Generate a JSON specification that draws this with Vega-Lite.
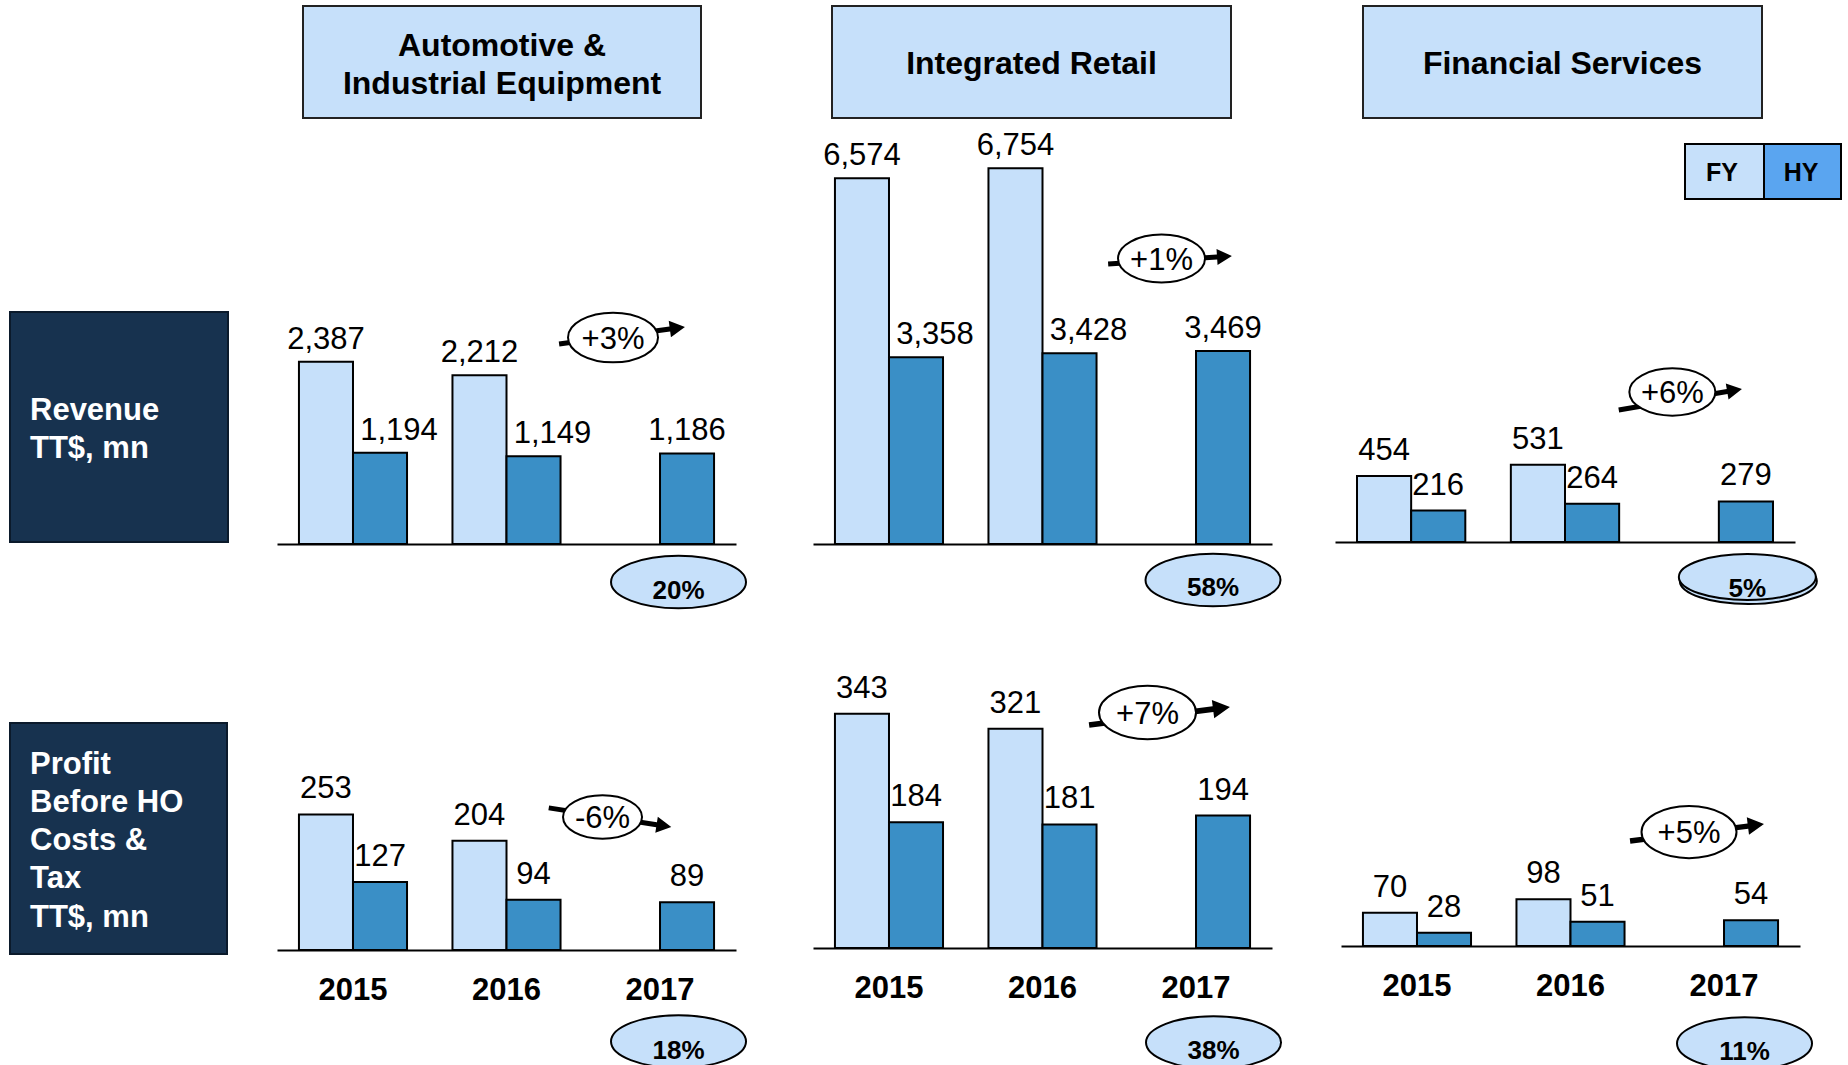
{
  "$schema": "https://vega.github.io/schema/vega-lite/v6.json",
  "padding": {"left": 9, "top": 5, "right": 0, "bottom": 0},
  "background": "white",
  "bounds": "flush",
  "align": "each",
  "columns": 7,
  "spacing": {"row": 12, "column": 0},
  "resolve": {"scale": {"x": "independent", "y": "independent", "xOffset": "independent", "color": "independent"}},
  "config": {"view": {"stroke": null}, "font": "Liberation Sans", "axis": {"labelFont": "Liberation Sans"}},
  "datasets": {
    "bars": [
      {"seg": "AIE", "metric": "Revenue", "year": "2015", "period": "FY", "value": 2387},
      {"seg": "AIE", "metric": "Revenue", "year": "2015", "period": "HY", "value": 1194},
      {"seg": "AIE", "metric": "Revenue", "year": "2016", "period": "FY", "value": 2212},
      {"seg": "AIE", "metric": "Revenue", "year": "2016", "period": "HY", "value": 1149},
      {"seg": "AIE", "metric": "Revenue", "year": "2017", "period": "HY", "value": 1186},
      {"seg": "IR", "metric": "Revenue", "year": "2015", "period": "FY", "value": 6574},
      {"seg": "IR", "metric": "Revenue", "year": "2015", "period": "HY", "value": 3358},
      {"seg": "IR", "metric": "Revenue", "year": "2016", "period": "FY", "value": 6754},
      {"seg": "IR", "metric": "Revenue", "year": "2016", "period": "HY", "value": 3428},
      {"seg": "IR", "metric": "Revenue", "year": "2017", "period": "HY", "value": 3469},
      {"seg": "FS", "metric": "Revenue", "year": "2015", "period": "FY", "value": 454},
      {"seg": "FS", "metric": "Revenue", "year": "2015", "period": "HY", "value": 216},
      {"seg": "FS", "metric": "Revenue", "year": "2016", "period": "FY", "value": 531},
      {"seg": "FS", "metric": "Revenue", "year": "2016", "period": "HY", "value": 264},
      {"seg": "FS", "metric": "Revenue", "year": "2017", "period": "HY", "value": 279},
      {"seg": "AIE", "metric": "Profit", "year": "2015", "period": "FY", "value": 253},
      {"seg": "AIE", "metric": "Profit", "year": "2015", "period": "HY", "value": 127},
      {"seg": "AIE", "metric": "Profit", "year": "2016", "period": "FY", "value": 204},
      {"seg": "AIE", "metric": "Profit", "year": "2016", "period": "HY", "value": 94},
      {"seg": "AIE", "metric": "Profit", "year": "2017", "period": "HY", "value": 89},
      {"seg": "IR", "metric": "Profit", "year": "2015", "period": "FY", "value": 343},
      {"seg": "IR", "metric": "Profit", "year": "2015", "period": "HY", "value": 184},
      {"seg": "IR", "metric": "Profit", "year": "2016", "period": "FY", "value": 321},
      {"seg": "IR", "metric": "Profit", "year": "2016", "period": "HY", "value": 181},
      {"seg": "IR", "metric": "Profit", "year": "2017", "period": "HY", "value": 194},
      {"seg": "FS", "metric": "Profit", "year": "2015", "period": "FY", "value": 70},
      {"seg": "FS", "metric": "Profit", "year": "2015", "period": "HY", "value": 28},
      {"seg": "FS", "metric": "Profit", "year": "2016", "period": "FY", "value": 98},
      {"seg": "FS", "metric": "Profit", "year": "2016", "period": "HY", "value": 51},
      {"seg": "FS", "metric": "Profit", "year": "2017", "period": "HY", "value": 54}
    ],
    "growth": [
      {"seg": "AIE", "metric": "Revenue", "year": "2017", "label": "+3%"},
      {"seg": "IR", "metric": "Revenue", "year": "2017", "label": "+1%"},
      {"seg": "FS", "metric": "Revenue", "year": "2017", "label": "+6%"},
      {"seg": "AIE", "metric": "Profit", "year": "2017", "label": "-6%"},
      {"seg": "IR", "metric": "Profit", "year": "2017", "label": "+7%"},
      {"seg": "FS", "metric": "Profit", "year": "2017", "label": "+5%"}
    ],
    "share": [
      {"seg": "AIE", "metric": "Revenue", "year": "2017", "label": "20%"},
      {"seg": "IR", "metric": "Revenue", "year": "2017", "label": "58%"},
      {"seg": "FS", "metric": "Revenue", "year": "2017", "label": "5%"},
      {"seg": "AIE", "metric": "Profit", "year": "2017", "label": "18%"},
      {"seg": "IR", "metric": "Profit", "year": "2017", "label": "38%"},
      {"seg": "FS", "metric": "Profit", "year": "2017", "label": "11%"}
    ],
    "headers": [
      {"seg": "AIE", "name": "Automotive &\nIndustrial Equipment"},
      {"seg": "IR", "name": "Integrated Retail"},
      {"seg": "FS", "name": "Financial Services"}
    ],
    "rows": [
      {"metric": "Revenue", "name": "Revenue\nTT$, mn"},
      {"metric": "Profit", "name": "Profit\nBefore HO\nCosts &\nTax\nTT$, mn"}
    ],
    "legend": [{"period": "FY"}, {"period": "HY"}]
  },
  "concat": [
    {"width": 218, "height": 1, "data": {"values": [{}]}, "mark": {"type": "text", "text": "", "baseline": "top", "align": "left"}, "encoding": {}},
    {"width": 49, "height": 1, "data": {"values": [{}]}, "mark": {"type": "text", "text": "", "baseline": "top", "align": "left"}, "encoding": {}},
    {"width": 459, "height": 112, "data": {"name": "headers"}, "transform": [{"filter": "datum.seg === 'AIE'"}],
     "layer": [
       {"mark": {"type": "rect", "fill": "#c6e0fa", "stroke": "#222", "strokeWidth": 2}, "encoding": {"x": {"value": 26}, "x2": {"value": 424}, "y": {"value": 0}, "y2": {"value": 112}}},
       {"mark": {"type": "text", "align": "center", "baseline": "alphabetic", "fontSize": 32, "fontWeight": "bold", "color": "#000", "lineBreak": "\n", "lineHeight": 38}, "encoding": {"x": {"value": 225}, "y": {"value": 49.5}, "text": {"field": "name", "type": "nominal"}}}
     ]},
    {"width": 77, "height": 1, "data": {"values": [{}]}, "mark": {"type": "text", "text": "", "baseline": "top", "align": "left"}, "encoding": {}},
    {"width": 459, "height": 112, "data": {"name": "headers"}, "transform": [{"filter": "datum.seg === 'IR'"}],
     "layer": [
       {"mark": {"type": "rect", "fill": "#c6e0fa", "stroke": "#222", "strokeWidth": 2}, "encoding": {"x": {"value": 19}, "x2": {"value": 418}, "y": {"value": 0}, "y2": {"value": 112}}},
       {"mark": {"type": "text", "align": "center", "baseline": "alphabetic", "fontSize": 32, "fontWeight": "bold", "color": "#000", "lineBreak": "\n", "lineHeight": 38}, "encoding": {"x": {"value": 218.5}, "y": {"value": 68}, "text": {"field": "name", "type": "nominal"}}}
     ]},
    {"width": 63, "height": 1, "data": {"values": [{}]}, "mark": {"type": "text", "text": "", "baseline": "top", "align": "left"}, "encoding": {}},
    {"width": 460, "height": 112, "data": {"name": "headers"}, "transform": [{"filter": "datum.seg === 'FS'"}],
     "layer": [
       {"mark": {"type": "rect", "fill": "#c6e0fa", "stroke": "#222", "strokeWidth": 2}, "encoding": {"x": {"value": 28}, "x2": {"value": 427}, "y": {"value": 0}, "y2": {"value": 112}}},
       {"mark": {"type": "text", "align": "center", "baseline": "alphabetic", "fontSize": 32, "fontWeight": "bold", "color": "#000", "lineBreak": "\n", "lineHeight": 38}, "encoding": {"x": {"value": 227.5}, "y": {"value": 68}, "text": {"field": "name", "type": "nominal"}}}
     ]},

    {"width": 218, "height": 414, "data": {"name": "rows"}, "transform": [{"filter": "datum.metric === 'Revenue'"}],
     "layer": [
       {"mark": {"type": "rect", "fill": "#17324f", "stroke": "#0b1a2b", "strokeWidth": 2}, "encoding": {"x": {"value": 0}, "x2": {"value": 218}, "y": {"value": 182}, "y2": {"value": 412}}},
       {"mark": {"type": "text", "align": "left", "baseline": "alphabetic", "fontSize": 31, "fontWeight": "bold", "color": "#ffffff", "lineBreak": "\n", "lineHeight": 38}, "encoding": {"x": {"value": 20}, "y": {"value": 289.5}, "text": {"field": "name", "type": "nominal"}}}
     ]},
    {"width": 49, "height": 1, "data": {"values": [{}]}, "mark": {"type": "text", "text": "", "baseline": "top", "align": "left"}, "encoding": {}},
    {
      "width": 459, "height": 414,
      "encoding": {"x": {"field": "year", "type": "nominal", "scale": {"domain": ["2015", "2016", "2017"], "paddingInner": 0.296, "paddingOuter": 0.143}, "axis": {"title": null, "labels": false, "ticks": false, "grid": false, "domainColor": "#000", "domainWidth": 2}}},
      "layer": [
        {"data": {"name": "bars"}, "transform": [{"filter": "datum.seg === 'AIE' && datum.metric === 'Revenue'"}],
         "mark": {"type": "bar", "stroke": "#000", "strokeWidth": 2},
         "encoding": {
           "xOffset": {"field": "period", "type": "nominal", "scale": {"domain": ["FY", "HY"], "paddingInner": 0, "paddingOuter": 0}},
           "y": {"field": "value", "type": "quantitative", "scale": {"domain": [0, 5423], "nice": false}, "axis": null},
           "color": {"field": "period", "type": "nominal", "scale": {"domain": ["FY", "HY"], "range": ["#c6e0fa", "#3a8fc6"]}, "legend": null}}},
        {"data": {"name": "bars"}, "transform": [{"filter": "datum.seg === 'AIE' && datum.metric === 'Revenue' && (datum.period === 'FY' || datum.year === '2017')"}],
         "mark": {"type": "text", "fontSize": 31, "baseline": "alphabetic", "dy": -13, "color": "#000"},
         "encoding": {"xOffset": {"field": "period", "type": "nominal"}, "y": {"field": "value", "type": "quantitative", "axis": null}, "text": {"field": "value", "type": "quantitative", "format": ","}}},
        {"data": {"name": "bars"}, "transform": [{"filter": "datum.seg === 'AIE' && datum.metric === 'Revenue' && datum.period === 'HY' && datum.year !== '2017'"}],
         "mark": {"type": "text", "fontSize": 31, "baseline": "alphabetic", "dy": -13, "dx": 19, "color": "#000"},
         "encoding": {"xOffset": {"field": "period", "type": "nominal"}, "y": {"field": "value", "type": "quantitative", "axis": null}, "text": {"field": "value", "type": "quantitative", "format": ","}}},
        {"data": {"name": "growth"}, "transform": [{"filter": "datum.seg === 'AIE' && datum.metric === 'Revenue'"}],
         "mark": {"type": "point", "shape": "M -1 -0.04 L 0.76 -0.04 L 0.76 -0.13 L 1 0 L 0.76 0.13 L 0.76 0.04 L -1 0.04 Z", "filled": true, "fill": "#000", "strokeWidth": 0, "opacity": 1, "size": 16129, "angle": 352.3, "xOffset": -38},
         "encoding": {"y": {"value": 205.5}}},
        {"data": {"name": "growth"}, "transform": [{"filter": "datum.seg === 'AIE' && datum.metric === 'Revenue'"}],
         "mark": {"type": "point", "shape": "M 1 0 C 1 0.3038 0.5523 0.55 0 0.55 C -0.5523 0.55 -1 0.3038 -1 0 C -1 -0.3038 -0.5523 -0.55 0 -0.55 C 0.5523 -0.55 1 -0.3038 1 0 Z", "filled": true, "fill": "#fff", "stroke": "#000", "strokeWidth": 2, "opacity": 1, "size": 8100, "xOffset": -47},
         "encoding": {"y": {"value": 207.5}}},
        {"data": {"name": "growth"}, "transform": [{"filter": "datum.seg === 'AIE' && datum.metric === 'Revenue'"}],
         "mark": {"type": "text", "fontSize": 31, "baseline": "alphabetic", "dy": 11, "xOffset": -47, "color": "#000"},
         "encoding": {"y": {"value": 207.5}, "text": {"field": "label", "type": "nominal"}}},
        {"data": {"name": "share"}, "transform": [{"filter": "datum.seg === 'AIE' && datum.metric === 'Revenue'"}],
         "mark": {"type": "point", "shape": "M 1 0 C 1 0.2154 0.5523 0.39 0 0.39 C -0.5523 0.39 -1 0.2154 -1 0 C -1 -0.2154 -0.5523 -0.39 0 -0.39 C 0.5523 -0.39 1 -0.2154 1 0 Z", "filled": true, "fill": "#c6e0fa", "stroke": "#000", "strokeWidth": 2, "opacity": 1, "size": 18225, "xOffset": 18.5},
         "encoding": {"y": {"value": 452}}},
        {"data": {"name": "share"}, "transform": [{"filter": "datum.seg === 'AIE' && datum.metric === 'Revenue'"}],
         "mark": {"type": "text", "fontSize": 26, "fontWeight": "bold", "baseline": "alphabetic", "dy": 17, "xOffset": 18.5, "color": "#000"},
         "encoding": {"y": {"value": 452}, "text": {"field": "label", "type": "nominal"}}}
      ]
    },
    {"width": 77, "height": 1, "data": {"values": [{}]}, "mark": {"type": "text", "text": "", "baseline": "top", "align": "left"}, "encoding": {}},
    {
      "width": 459, "height": 414,
      "encoding": {"x": {"field": "year", "type": "nominal", "scale": {"domain": ["2015", "2016", "2017"], "paddingInner": 0.296, "paddingOuter": 0.143}, "axis": {"title": null, "labels": false, "ticks": false, "grid": false, "domainColor": "#000", "domainWidth": 2}}},
      "layer": [
        {"data": {"name": "bars"}, "transform": [{"filter": "datum.seg === 'IR' && datum.metric === 'Revenue'"}],
         "mark": {"type": "bar", "stroke": "#000", "strokeWidth": 2},
         "encoding": {
           "xOffset": {"field": "period", "type": "nominal", "scale": {"domain": ["FY", "HY"], "paddingInner": 0, "paddingOuter": 0}},
           "y": {"field": "value", "type": "quantitative", "scale": {"domain": [0, 7440], "nice": false}, "axis": null},
           "color": {"field": "period", "type": "nominal", "scale": {"domain": ["FY", "HY"], "range": ["#c6e0fa", "#3a8fc6"]}, "legend": null}}},
        {"data": {"name": "bars"}, "transform": [{"filter": "datum.seg === 'IR' && datum.metric === 'Revenue' && (datum.period === 'FY' || datum.year === '2017')"}],
         "mark": {"type": "text", "fontSize": 31, "baseline": "alphabetic", "dy": -13, "color": "#000"},
         "encoding": {"xOffset": {"field": "period", "type": "nominal"}, "y": {"field": "value", "type": "quantitative", "axis": null}, "text": {"field": "value", "type": "quantitative", "format": ","}}},
        {"data": {"name": "bars"}, "transform": [{"filter": "datum.seg === 'IR' && datum.metric === 'Revenue' && datum.period === 'HY' && datum.year !== '2017'"}],
         "mark": {"type": "text", "fontSize": 31, "baseline": "alphabetic", "dy": -13, "dx": 19, "color": "#000"},
         "encoding": {"xOffset": {"field": "period", "type": "nominal"}, "y": {"field": "value", "type": "quantitative", "axis": null}, "text": {"field": "value", "type": "quantitative", "format": ","}}},
        {"data": {"name": "growth"}, "transform": [{"filter": "datum.seg === 'IR' && datum.metric === 'Revenue'"}],
         "mark": {"type": "point", "shape": "M -1 -0.04 L 0.76 -0.04 L 0.76 -0.13 L 1 0 L 0.76 0.13 L 0.76 0.04 L -1 0.04 Z", "filled": true, "fill": "#000", "strokeWidth": 0, "opacity": 1, "size": 15376, "angle": 356.3, "xOffset": -26},
         "encoding": {"y": {"value": 130}}},
        {"data": {"name": "growth"}, "transform": [{"filter": "datum.seg === 'IR' && datum.metric === 'Revenue'"}],
         "mark": {"type": "point", "shape": "M 1 0 C 1 0.3038 0.5523 0.55 0 0.55 C -0.5523 0.55 -1 0.3038 -1 0 C -1 -0.3038 -0.5523 -0.55 0 -0.55 C 0.5523 -0.55 1 -0.3038 1 0 Z", "filled": true, "fill": "#fff", "stroke": "#000", "strokeWidth": 2, "opacity": 1, "size": 7569, "xOffset": -34.5},
         "encoding": {"y": {"value": 128.5}}},
        {"data": {"name": "growth"}, "transform": [{"filter": "datum.seg === 'IR' && datum.metric === 'Revenue'"}],
         "mark": {"type": "text", "fontSize": 31, "baseline": "alphabetic", "dy": 11, "xOffset": -34.5, "color": "#000"},
         "encoding": {"y": {"value": 128.5}, "text": {"field": "label", "type": "nominal"}}},
        {"data": {"name": "share"}, "transform": [{"filter": "datum.seg === 'IR' && datum.metric === 'Revenue'"}],
         "mark": {"type": "point", "shape": "M 1 0 C 1 0.2154 0.5523 0.39 0 0.39 C -0.5523 0.39 -1 0.2154 -1 0 C -1 -0.2154 -0.5523 -0.39 0 -0.39 C 0.5523 -0.39 1 -0.2154 1 0 Z", "filled": true, "fill": "#c6e0fa", "stroke": "#000", "strokeWidth": 2, "opacity": 1, "size": 18225, "xOffset": 17},
         "encoding": {"y": {"value": 450}}},
        {"data": {"name": "share"}, "transform": [{"filter": "datum.seg === 'IR' && datum.metric === 'Revenue'"}],
         "mark": {"type": "text", "fontSize": 26, "fontWeight": "bold", "baseline": "alphabetic", "dy": 16, "xOffset": 17, "color": "#000"},
         "encoding": {"y": {"value": 450}, "text": {"field": "label", "type": "nominal"}}}
      ]
    },
    {"width": 63, "height": 1, "data": {"values": [{}]}, "mark": {"type": "text", "text": "", "baseline": "top", "align": "left"}, "encoding": {}},
    {
      "width": 460, "height": 412,
      "encoding": {"x": {"field": "year", "type": "nominal", "scale": {"domain": ["2015", "2016", "2017"], "paddingInner": 0.296, "paddingOuter": 0.143}, "axis": {"title": null, "labels": false, "ticks": false, "grid": false, "domainColor": "#000", "domainWidth": 2}}},
      "layer": [
        {"data": {"name": "bars"}, "transform": [{"filter": "datum.seg === 'FS' && datum.metric === 'Revenue'"}],
         "mark": {"type": "bar", "stroke": "#000", "strokeWidth": 2},
         "encoding": {
           "xOffset": {"field": "period", "type": "nominal", "scale": {"domain": ["FY", "HY"], "paddingInner": 0, "paddingOuter": 0}},
           "y": {"field": "value", "type": "quantitative", "scale": {"domain": [0, 2835], "nice": false}, "axis": null},
           "color": {"field": "period", "type": "nominal", "scale": {"domain": ["FY", "HY"], "range": ["#c6e0fa", "#3a8fc6"]}, "legend": null}}},
        {"data": {"name": "bars"}, "transform": [{"filter": "datum.seg === 'FS' && datum.metric === 'Revenue'"}],
         "mark": {"type": "text", "fontSize": 31, "baseline": "alphabetic", "dy": -16, "color": "#000"},
         "encoding": {"xOffset": {"field": "period", "type": "nominal"}, "y": {"field": "value", "type": "quantitative", "axis": null}, "text": {"field": "value", "type": "quantitative", "format": ","}}},
        {"data": {"name": "growth"}, "transform": [{"filter": "datum.seg === 'FS' && datum.metric === 'Revenue'"}],
         "mark": {"type": "point", "shape": "M -1 -0.04 L 0.76 -0.04 L 0.76 -0.13 L 1 0 L 0.76 0.13 L 0.76 0.04 L -1 0.04 Z", "filled": true, "fill": "#000", "strokeWidth": 0, "opacity": 1, "size": 15625, "angle": 350.3, "xOffset": -38.5},
         "encoding": {"y": {"value": 269.5}}},
        {"data": {"name": "growth"}, "transform": [{"filter": "datum.seg === 'FS' && datum.metric === 'Revenue'"}],
         "mark": {"type": "point", "shape": "M 1 0 C 1 0.3038 0.5523 0.55 0 0.55 C -0.5523 0.55 -1 0.3038 -1 0 C -1 -0.3038 -0.5523 -0.55 0 -0.55 C 0.5523 -0.55 1 -0.3038 1 0 Z", "filled": true, "fill": "#fff", "stroke": "#000", "strokeWidth": 2, "opacity": 1, "size": 7396, "xOffset": -46.5},
         "encoding": {"y": {"value": 262}}},
        {"data": {"name": "growth"}, "transform": [{"filter": "datum.seg === 'FS' && datum.metric === 'Revenue'"}],
         "mark": {"type": "text", "fontSize": 31, "baseline": "alphabetic", "dy": 11, "xOffset": -46.5, "color": "#000"},
         "encoding": {"y": {"value": 262}, "text": {"field": "label", "type": "nominal"}}},
        {"data": {"name": "share"}, "transform": [{"filter": "datum.seg === 'FS' && datum.metric === 'Revenue'"}],
         "mark": {"type": "point", "shape": "M 1 0 C 1 0.1856 0.5523 0.336 0 0.336 C -0.5523 0.336 -1 0.1856 -1 0 C -1 -0.1856 -0.5523 -0.336 0 -0.336 C 0.5523 -0.336 1 -0.1856 1 0 Z", "filled": true, "fill": "#c6e0fa", "stroke": "#000", "strokeWidth": 2, "opacity": 1, "size": 18769, "xOffset": 29.5, "yOffset": 4},
         "encoding": {"y": {"value": 447}}},
        {"data": {"name": "share"}, "transform": [{"filter": "datum.seg === 'FS' && datum.metric === 'Revenue'"}],
         "mark": {"type": "point", "shape": "M 1 0 C 1 0.1856 0.5523 0.336 0 0.336 C -0.5523 0.336 -1 0.1856 -1 0 C -1 -0.1856 -0.5523 -0.336 0 -0.336 C 0.5523 -0.336 1 -0.1856 1 0 Z", "filled": true, "fill": "#c6e0fa", "stroke": "#000", "strokeWidth": 2, "opacity": 1, "size": 18769, "xOffset": 28.5},
         "encoding": {"y": {"value": 447}}},
        {"data": {"name": "share"}, "transform": [{"filter": "datum.seg === 'FS' && datum.metric === 'Revenue'"}],
         "mark": {"type": "text", "fontSize": 26, "fontWeight": "bold", "baseline": "alphabetic", "dy": 19.5, "xOffset": 28.5, "color": "#000"},
         "encoding": {"y": {"value": 447}, "text": {"field": "label", "type": "nominal"}}},
        {"data": {"name": "legend"}, "transform": [{"filter": "datum.period === 'FY'"}],
         "mark": {"type": "rect", "fill": "#c6e0fa", "stroke": "#000", "strokeWidth": 2},
         "encoding": {"x": {"value": 350}, "x2": {"value": 429}, "y": {"value": 14}, "y2": {"value": 69}}},
        {"data": {"name": "legend"}, "transform": [{"filter": "datum.period === 'HY'"}],
         "mark": {"type": "rect", "fill": "#5aa5f0", "stroke": "#000", "strokeWidth": 2},
         "encoding": {"x": {"value": 429}, "x2": {"value": 506}, "y": {"value": 14}, "y2": {"value": 69}}},
        {"data": {"name": "legend"}, "transform": [{"filter": "datum.period === 'FY'"}],
         "mark": {"type": "text", "fontSize": 25, "fontWeight": "bold", "baseline": "alphabetic", "align": "center", "color": "#000"},
         "encoding": {"x": {"value": 387}, "y": {"value": 50.5}, "text": {"field": "period", "type": "nominal"}}},
        {"data": {"name": "legend"}, "transform": [{"filter": "datum.period === 'HY'"}],
         "mark": {"type": "text", "fontSize": 25, "fontWeight": "bold", "baseline": "alphabetic", "align": "center", "color": "#000"},
         "encoding": {"x": {"value": 466}, "y": {"value": 50.5}, "text": {"field": "period", "type": "nominal"}}}
      ]
    },

    {"width": 218, "height": 394, "data": {"name": "rows"}, "transform": [{"filter": "datum.metric === 'Profit'"}],
     "layer": [
       {"mark": {"type": "rect", "fill": "#17324f", "stroke": "#0b1a2b", "strokeWidth": 2}, "encoding": {"x": {"value": 0}, "x2": {"value": 217}, "y": {"value": 167}, "y2": {"value": 398}}},
       {"mark": {"type": "text", "align": "left", "baseline": "alphabetic", "fontSize": 31, "fontWeight": "bold", "color": "#ffffff", "lineBreak": "\n", "lineHeight": 38.3}, "encoding": {"x": {"value": 20}, "y": {"value": 217.5}, "text": {"field": "name", "type": "nominal"}}}
     ]},
    {"width": 49, "height": 1, "data": {"values": [{}]}, "mark": {"type": "text", "text": "", "baseline": "top", "align": "left"}, "encoding": {}},
    {
      "width": 459, "height": 394,
      "encoding": {"x": {"field": "year", "type": "nominal", "scale": {"domain": ["2015", "2016", "2017"], "paddingInner": 0.296, "paddingOuter": 0.143}, "axis": {"title": null, "labels": true, "labelFontSize": 31, "labelFontWeight": "bold", "labelColor": "#000", "labelPadding": 25, "labelAngle": 0, "ticks": false, "tickSize": 0, "grid": false, "domainColor": "#000", "domainWidth": 2}}},
      "layer": [
        {"data": {"name": "bars"}, "transform": [{"filter": "datum.seg === 'AIE' && datum.metric === 'Profit'"}],
         "mark": {"type": "bar", "stroke": "#000", "strokeWidth": 2},
         "encoding": {
           "xOffset": {"field": "period", "type": "nominal", "scale": {"domain": ["FY", "HY"], "paddingInner": 0, "paddingOuter": 0}},
           "y": {"field": "value", "type": "quantitative", "scale": {"domain": [0, 735.6], "nice": false}, "axis": null},
           "color": {"field": "period", "type": "nominal", "scale": {"domain": ["FY", "HY"], "range": ["#c6e0fa", "#3a8fc6"]}, "legend": null}}},
        {"data": {"name": "bars"}, "transform": [{"filter": "datum.seg === 'AIE' && datum.metric === 'Profit'"}],
         "mark": {"type": "text", "fontSize": 31, "baseline": "alphabetic", "dy": -16, "color": "#000"},
         "encoding": {"xOffset": {"field": "period", "type": "nominal"}, "y": {"field": "value", "type": "quantitative", "axis": null}, "text": {"field": "value", "type": "quantitative", "format": ","}}},
        {"data": {"name": "growth"}, "transform": [{"filter": "datum.seg === 'AIE' && datum.metric === 'Profit'"}],
         "mark": {"type": "point", "shape": "M -1 -0.04 L 0.76 -0.04 L 0.76 -0.13 L 1 0 L 0.76 0.13 L 0.76 0.04 L -1 0.04 Z", "filled": true, "fill": "#000", "strokeWidth": 0, "opacity": 1, "size": 15376, "angle": 8.9, "xOffset": -50},
         "encoding": {"y": {"value": 261.5}}},
        {"data": {"name": "growth"}, "transform": [{"filter": "datum.seg === 'AIE' && datum.metric === 'Profit'"}],
         "mark": {"type": "point", "shape": "M 1 0 C 1 0.3038 0.5523 0.55 0 0.55 C -0.5523 0.55 -1 0.3038 -1 0 C -1 -0.3038 -0.5523 -0.55 0 -0.55 C 0.5523 -0.55 1 -0.3038 1 0 Z", "filled": true, "fill": "#fff", "stroke": "#000", "strokeWidth": 2, "opacity": 1, "size": 6241, "xOffset": -57.5},
         "encoding": {"y": {"value": 261}}},
        {"data": {"name": "growth"}, "transform": [{"filter": "datum.seg === 'AIE' && datum.metric === 'Profit'"}],
         "mark": {"type": "text", "fontSize": 31, "baseline": "alphabetic", "dy": 11, "xOffset": -57.5, "color": "#000"},
         "encoding": {"y": {"value": 261}, "text": {"field": "label", "type": "nominal"}}},
        {"data": {"name": "share"}, "transform": [{"filter": "datum.seg === 'AIE' && datum.metric === 'Profit'"}],
         "mark": {"type": "point", "shape": "M 1 0 C 1 0.2154 0.5523 0.39 0 0.39 C -0.5523 0.39 -1 0.2154 -1 0 C -1 -0.2154 -0.5523 -0.39 0 -0.39 C 0.5523 -0.39 1 -0.2154 1 0 Z", "filled": true, "fill": "#c6e0fa", "stroke": "#000", "strokeWidth": 2, "opacity": 1, "size": 18225, "xOffset": 18.5},
         "encoding": {"y": {"value": 485.5}}},
        {"data": {"name": "share"}, "transform": [{"filter": "datum.seg === 'AIE' && datum.metric === 'Profit'"}],
         "mark": {"type": "text", "fontSize": 26, "fontWeight": "bold", "baseline": "alphabetic", "dy": 17, "xOffset": 18.5, "color": "#000"},
         "encoding": {"y": {"value": 485.5}, "text": {"field": "label", "type": "nominal"}}}
      ]
    },
    {"width": 77, "height": 1, "data": {"values": [{}]}, "mark": {"type": "text", "text": "", "baseline": "top", "align": "left"}, "encoding": {}},
    {
      "width": 459, "height": 392,
      "encoding": {"x": {"field": "year", "type": "nominal", "scale": {"domain": ["2015", "2016", "2017"], "paddingInner": 0.296, "paddingOuter": 0.143}, "axis": {"title": null, "labels": true, "labelFontSize": 31, "labelFontWeight": "bold", "labelColor": "#000", "labelPadding": 25, "labelAngle": 0, "ticks": false, "tickSize": 0, "grid": false, "domainColor": "#000", "domainWidth": 2}}},
      "layer": [
        {"data": {"name": "bars"}, "transform": [{"filter": "datum.seg === 'IR' && datum.metric === 'Profit'"}],
         "mark": {"type": "bar", "stroke": "#000", "strokeWidth": 2},
         "encoding": {
           "xOffset": {"field": "period", "type": "nominal", "scale": {"domain": ["FY", "HY"], "paddingInner": 0, "paddingOuter": 0}},
           "y": {"field": "value", "type": "quantitative", "scale": {"domain": [0, 574], "nice": false}, "axis": null},
           "color": {"field": "period", "type": "nominal", "scale": {"domain": ["FY", "HY"], "range": ["#c6e0fa", "#3a8fc6"]}, "legend": null}}},
        {"data": {"name": "bars"}, "transform": [{"filter": "datum.seg === 'IR' && datum.metric === 'Profit'"}],
         "mark": {"type": "text", "fontSize": 31, "baseline": "alphabetic", "dy": -16, "color": "#000"},
         "encoding": {"xOffset": {"field": "period", "type": "nominal"}, "y": {"field": "value", "type": "quantitative", "axis": null}, "text": {"field": "value", "type": "quantitative", "format": ","}}},
        {"data": {"name": "growth"}, "transform": [{"filter": "datum.seg === 'IR' && datum.metric === 'Profit'"}],
         "mark": {"type": "point", "shape": "M -1 -0.04 L 0.76 -0.04 L 0.76 -0.13 L 1 0 L 0.76 0.13 L 0.76 0.04 L -1 0.04 Z", "filled": true, "fill": "#000", "strokeWidth": 0, "opacity": 1, "size": 20164, "angle": 352.7, "xOffset": -36.5},
         "encoding": {"y": {"value": 160}}},
        {"data": {"name": "growth"}, "transform": [{"filter": "datum.seg === 'IR' && datum.metric === 'Profit'"}],
         "mark": {"type": "point", "shape": "M 1 0 C 1 0.3038 0.5523 0.55 0 0.55 C -0.5523 0.55 -1 0.3038 -1 0 C -1 -0.3038 -0.5523 -0.55 0 -0.55 C 0.5523 -0.55 1 -0.3038 1 0 Z", "filled": true, "fill": "#fff", "stroke": "#000", "strokeWidth": 2, "opacity": 1, "size": 9409, "xOffset": -48.5},
         "encoding": {"y": {"value": 156.5}}},
        {"data": {"name": "growth"}, "transform": [{"filter": "datum.seg === 'IR' && datum.metric === 'Profit'"}],
         "mark": {"type": "text", "fontSize": 31, "baseline": "alphabetic", "dy": 11, "xOffset": -48.5, "color": "#000"},
         "encoding": {"y": {"value": 156.5}, "text": {"field": "label", "type": "nominal"}}},
        {"data": {"name": "share"}, "transform": [{"filter": "datum.seg === 'IR' && datum.metric === 'Profit'"}],
         "mark": {"type": "point", "shape": "M 1 0 C 1 0.2154 0.5523 0.39 0 0.39 C -0.5523 0.39 -1 0.2154 -1 0 C -1 -0.2154 -0.5523 -0.39 0 -0.39 C 0.5523 -0.39 1 -0.2154 1 0 Z", "filled": true, "fill": "#c6e0fa", "stroke": "#000", "strokeWidth": 2, "opacity": 1, "size": 18225, "xOffset": 17.5},
         "encoding": {"y": {"value": 486.5}}},
        {"data": {"name": "share"}, "transform": [{"filter": "datum.seg === 'IR' && datum.metric === 'Profit'"}],
         "mark": {"type": "text", "fontSize": 26, "fontWeight": "bold", "baseline": "alphabetic", "dy": 16.5, "xOffset": 17.5, "color": "#000"},
         "encoding": {"y": {"value": 486.5}, "text": {"field": "label", "type": "nominal"}}}
      ]
    },
    {"width": 63, "height": 1, "data": {"values": [{}]}, "mark": {"type": "text", "text": "", "baseline": "top", "align": "left"}, "encoding": {}},
    {
      "width": 460, "height": 390,
      "encoding": {"x": {"field": "year", "type": "nominal", "scale": {"domain": ["2015", "2016", "2017"], "range": [6, 465], "paddingInner": 0.296, "paddingOuter": 0.143}, "axis": {"title": null, "labels": true, "labelFontSize": 31, "labelFontWeight": "bold", "labelColor": "#000", "labelPadding": 25, "labelAngle": 0, "ticks": false, "tickSize": 0, "grid": false, "domainColor": "#000", "domainWidth": 2}}},
      "layer": [
        {"data": {"name": "bars"}, "transform": [{"filter": "datum.seg === 'FS' && datum.metric === 'Profit'"}],
         "mark": {"type": "bar", "stroke": "#000", "strokeWidth": 2},
         "encoding": {
           "xOffset": {"field": "period", "type": "nominal", "scale": {"domain": ["FY", "HY"], "paddingInner": 0, "paddingOuter": 0}},
           "y": {"field": "value", "type": "quantitative", "scale": {"domain": [0, 819], "nice": false}, "axis": null},
           "color": {"field": "period", "type": "nominal", "scale": {"domain": ["FY", "HY"], "range": ["#c6e0fa", "#3a8fc6"]}, "legend": null}}},
        {"data": {"name": "bars"}, "transform": [{"filter": "datum.seg === 'FS' && datum.metric === 'Profit'"}],
         "mark": {"type": "text", "fontSize": 31, "baseline": "alphabetic", "dy": -16, "color": "#000"},
         "encoding": {"xOffset": {"field": "period", "type": "nominal"}, "y": {"field": "value", "type": "quantitative", "axis": null}, "text": {"field": "value", "type": "quantitative", "format": ","}}},
        {"data": {"name": "growth"}, "transform": [{"filter": "datum.seg === 'FS' && datum.metric === 'Profit'"}],
         "mark": {"type": "point", "shape": "M -1 -0.04 L 0.76 -0.04 L 0.76 -0.13 L 1 0 L 0.76 0.13 L 0.76 0.04 L -1 0.04 Z", "filled": true, "fill": "#000", "strokeWidth": 0, "opacity": 1, "size": 18225, "angle": 352.8, "xOffset": -27},
         "encoding": {"y": {"value": 276.5}}},
        {"data": {"name": "growth"}, "transform": [{"filter": "datum.seg === 'FS' && datum.metric === 'Profit'"}],
         "mark": {"type": "point", "shape": "M 1 0 C 1 0.3038 0.5523 0.55 0 0.55 C -0.5523 0.55 -1 0.3038 -1 0 C -1 -0.3038 -0.5523 -0.55 0 -0.55 C 0.5523 -0.55 1 -0.3038 1 0 Z", "filled": true, "fill": "#fff", "stroke": "#000", "strokeWidth": 2, "opacity": 1, "size": 9025, "xOffset": -35},
         "encoding": {"y": {"value": 276}}},
        {"data": {"name": "growth"}, "transform": [{"filter": "datum.seg === 'FS' && datum.metric === 'Profit'"}],
         "mark": {"type": "text", "fontSize": 31, "baseline": "alphabetic", "dy": 11, "xOffset": -35, "color": "#000"},
         "encoding": {"y": {"value": 276}, "text": {"field": "label", "type": "nominal"}}},
        {"data": {"name": "share"}, "transform": [{"filter": "datum.seg === 'FS' && datum.metric === 'Profit'"}],
         "mark": {"type": "point", "shape": "M 1 0 C 1 0.2154 0.5523 0.39 0 0.39 C -0.5523 0.39 -1 0.2154 -1 0 C -1 -0.2154 -0.5523 -0.39 0 -0.39 C 0.5523 -0.39 1 -0.2154 1 0 Z", "filled": true, "fill": "#c6e0fa", "stroke": "#000", "strokeWidth": 2, "opacity": 1, "size": 18225, "xOffset": 20.5},
         "encoding": {"y": {"value": 487.5}}},
        {"data": {"name": "share"}, "transform": [{"filter": "datum.seg === 'FS' && datum.metric === 'Profit'"}],
         "mark": {"type": "text", "fontSize": 26, "fontWeight": "bold", "baseline": "alphabetic", "dy": 16.5, "xOffset": 20.5, "color": "#000"},
         "encoding": {"y": {"value": 487.5}, "text": {"field": "label", "type": "nominal"}}}
      ]
    }
  ]
}
